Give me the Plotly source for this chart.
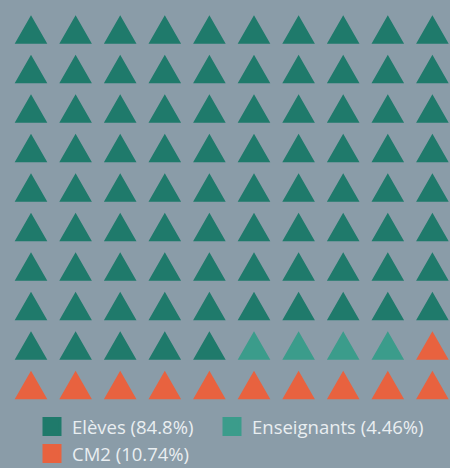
import plotly.graph_objects as go

categories = ["Elèves", "Enseignants", "CM2"]
percentages = [84.8, 4.46, 10.74]
counts = [85, 4, 11]
colors = ["#1f7a6b", "#3b9c8b", "#e8623f"]
legend_ids = ["legend", "legend2", "legend3"]

n_cols = 10
n_rows = 10

BG = "#8a9ca8"
TEXT = "#e9eef1"

# pixel geometry of the grid
col0_px, col_pitch = 31.0, 44.6
row0_px, row_pitch = 29.5, 39.5
W, H = 450, 468
half_w = 16.3 / col_pitch
half_h = 14.3 / row_pitch

fig = go.Figure()

idx = 0
for cat, pct, cnt, col, lg in zip(categories, percentages, counts, colors, legend_ids):
    xs, ys = [], []
    for k in range(cnt):
        i = idx + k
        r, c = divmod(i, n_cols)
        xs += [c - half_w, c + half_w, c, c - half_w, None]
        ys += [r + half_h, r + half_h, r - half_h, r + half_h, None]
    idx += cnt
    fig.add_trace(go.Scatter(
        x=xs, y=ys, mode="lines", fill="toself", fillcolor=col,
        line=dict(width=0, color=col), hoverinfo="skip", showlegend=False,
    ))
    fig.add_trace(go.Scatter(
        x=[None], y=[None], mode="markers",
        marker=dict(symbol="square", size=16, color=col, line=dict(width=3, color=col)),
        name=f"{cat} ({pct}%)", showlegend=True, legend=lg,
    ))

legend_font = dict(family="Open Sans", size=18.5, color=TEXT)


def legend_at(px_x, px_y):
    return dict(
        orientation="h", x=px_x / W, y=1 - px_y / H, xanchor="left", yanchor="middle",
        bgcolor="rgba(0,0,0,0)", font=legend_font, itemsizing="trace",
    )


fig.update_layout(
    width=W, height=H,
    margin=dict(l=0, r=0, t=0, b=0, autoexpand=False),
    paper_bgcolor=BG, plot_bgcolor=BG,
    xaxis=dict(range=[-col0_px / col_pitch, (W - col0_px) / col_pitch],
               visible=False, fixedrange=True),
    yaxis=dict(range=[(H - row0_px) / row_pitch, -row0_px / row_pitch],
               visible=False, fixedrange=True),
    showlegend=True,
    legend=legend_at(32, 427),
    legend2=legend_at(212, 427),
    legend3=legend_at(32, 454),
)

fig.write_html(
    "out.html",
    config=dict(displayModeBar=False, staticPlot=True),
    post_script="document.documentElement.style.overflow='hidden';document.body.style.margin='0';",
)
